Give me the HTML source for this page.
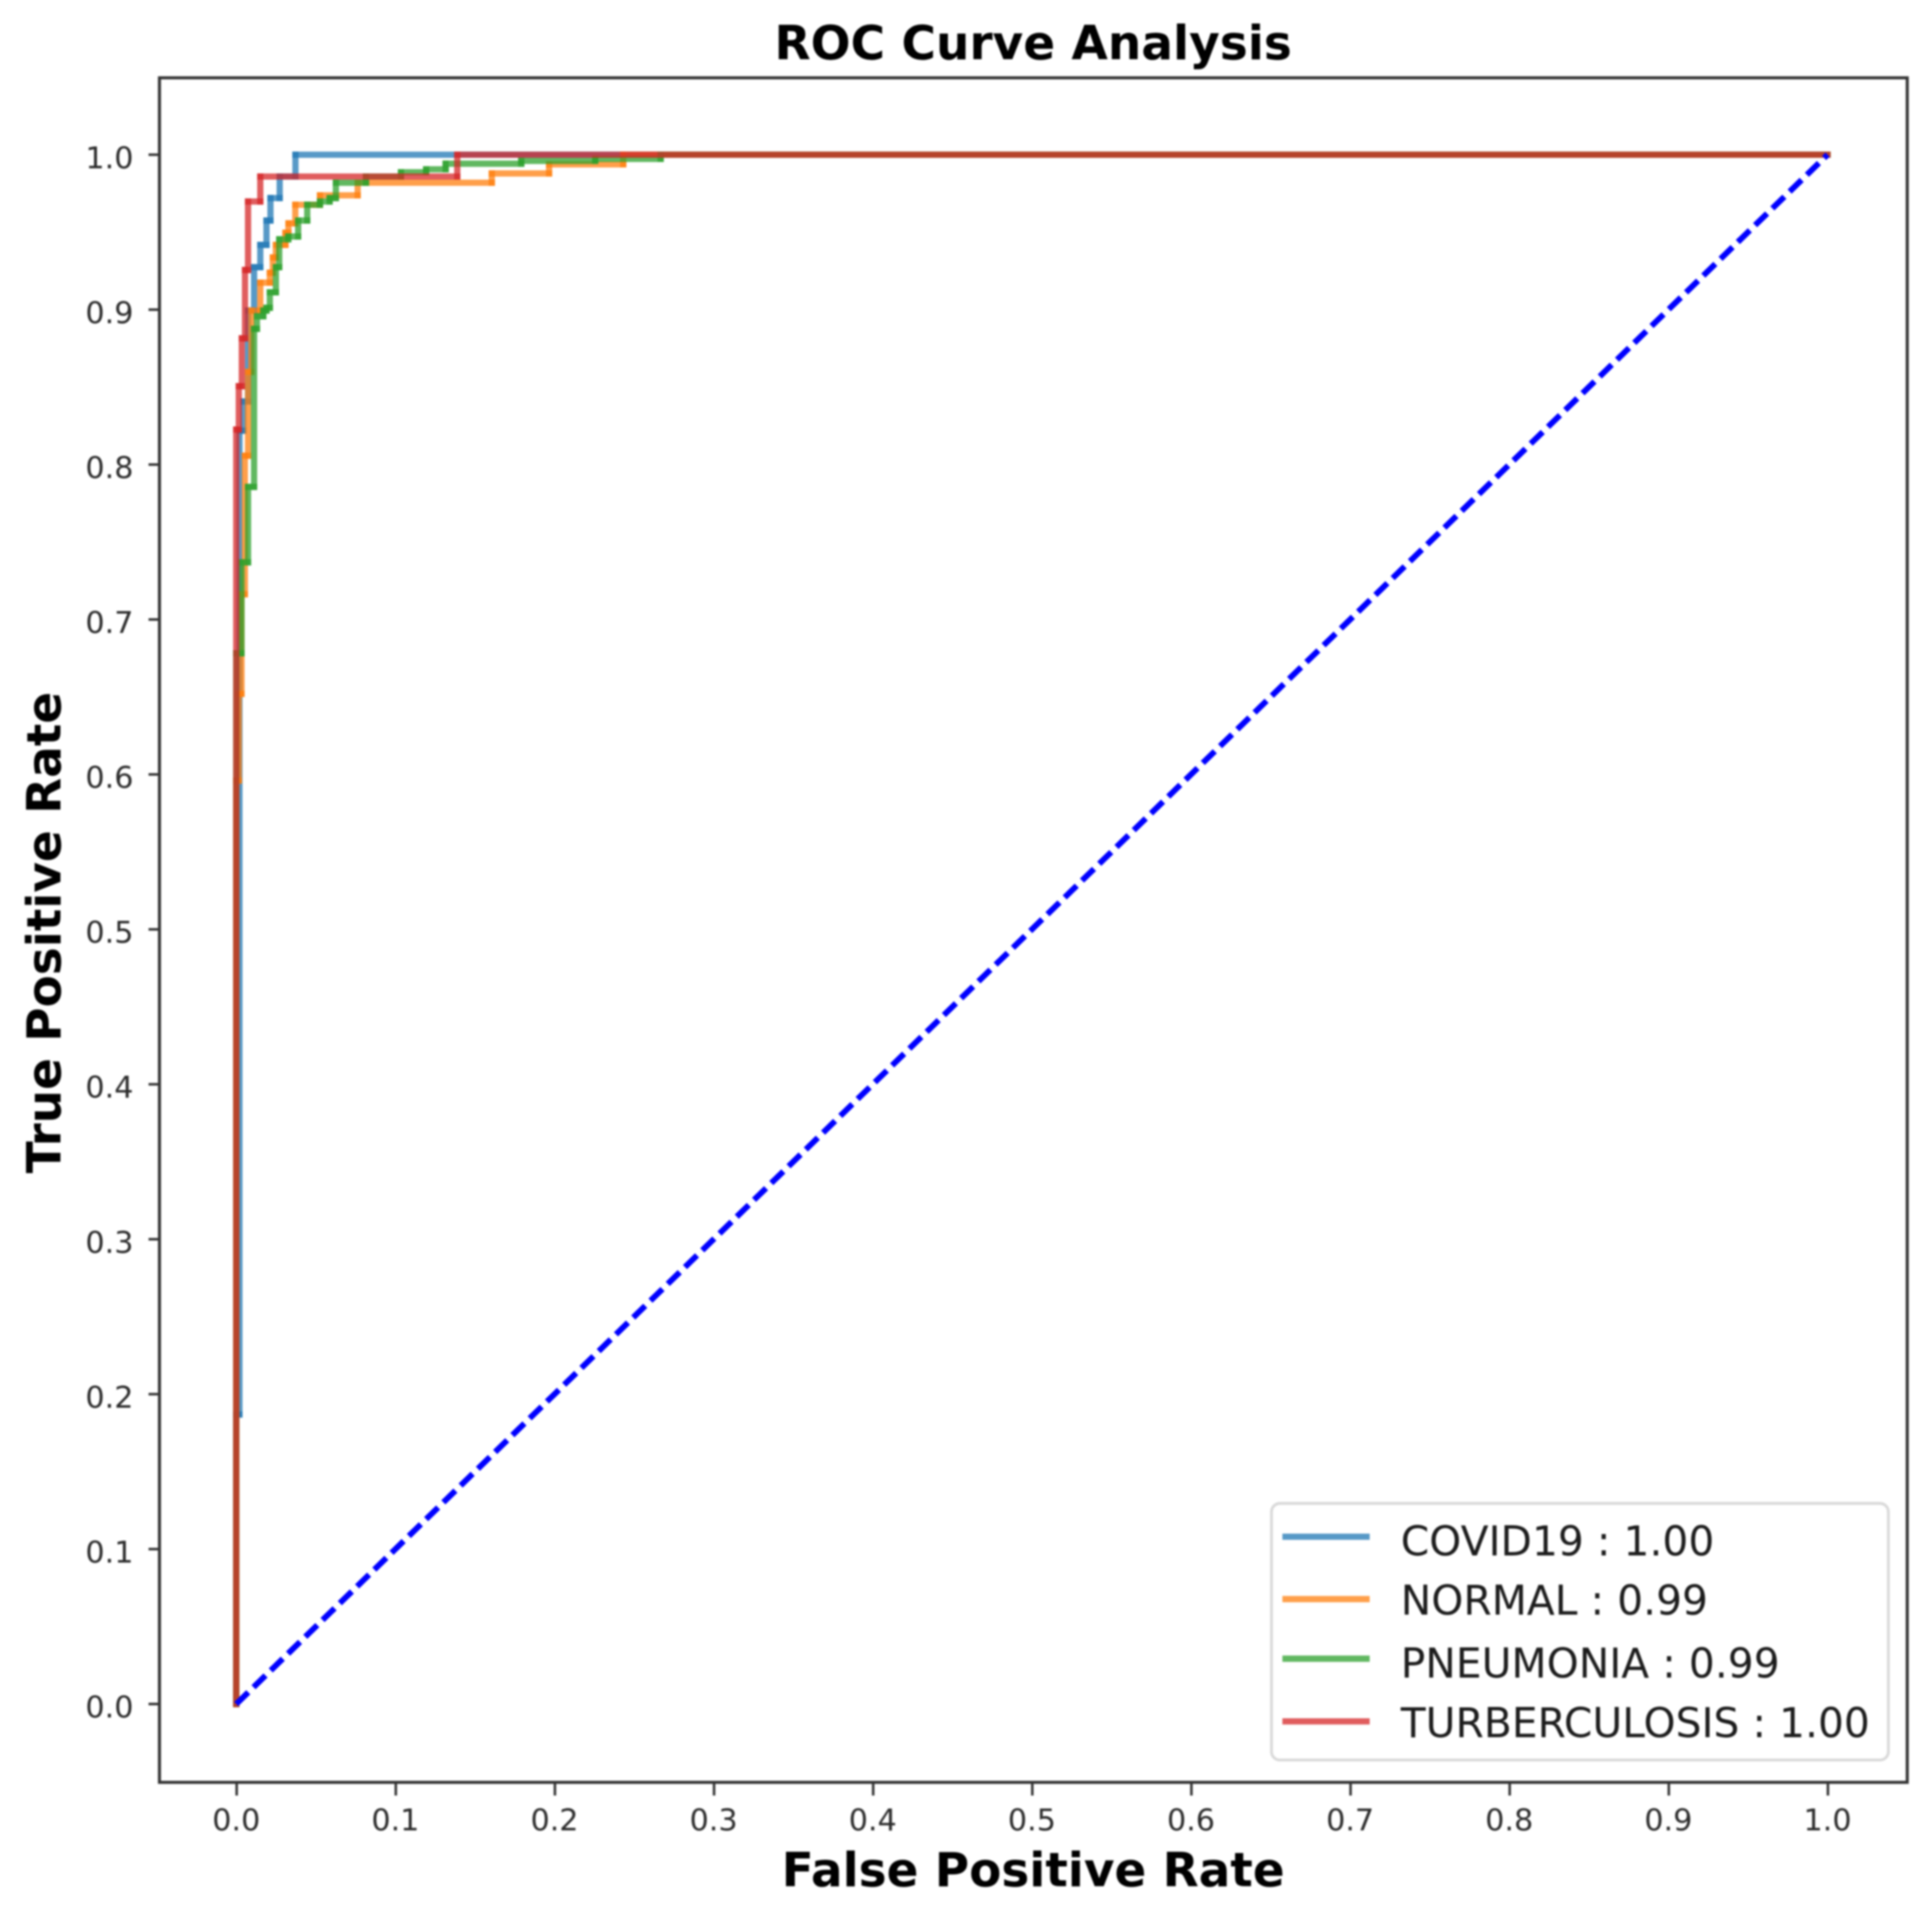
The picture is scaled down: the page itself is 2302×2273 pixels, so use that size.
<!DOCTYPE html>
<html lang="en">
<head>
<meta charset="utf-8">
<title>ROC Curve Analysis</title>
<style>
  html,body{margin:0;padding:0;background:#fff;}
  body{width:2302px;height:2273px;overflow:hidden;}
  svg{display:block;filter:blur(1px);}
  text{font-family:"DejaVu Sans","Liberation Sans",sans-serif;}
  .tick-text{font-size:36px;fill:#2b2b2b;}
  .axis-title{font-size:55.9px;font-weight:bold;fill:#000;}
  .legend-text{font-size:48.6px;fill:#1c1c1c;}
</style>
</head>
<body>
<svg id="chart" width="2302" height="2273" viewBox="0 0 2302 2273" xmlns="http://www.w3.org/2000/svg">
  <rect x="0" y="0" width="2302" height="2273" fill="#fff"/>
  <text class="axis-title" x="1231" y="70.5" text-anchor="middle" style="font-size:56px">ROC Curve Analysis</text>
  <text class="axis-title" x="1231" y="2247" text-anchor="middle">False Positive Rate</text>
  <text class="axis-title" transform="translate(72 1111) rotate(-90)" text-anchor="middle">True Positive Rate</text>
  <g id="ticks"></g>
  <g id="series"></g>
  <rect x="190" y="92.7" width="2082.5" height="2030.6" fill="none" stroke="#333" stroke-width="3.6"/>
  <g>
    <rect x="1515" y="1791" width="735" height="305.7" rx="10" ry="10" fill="#fff" fill-opacity="0.9" stroke="#d9d9d9" stroke-width="3.4"/>
    <line x1="1528" x2="1632" y1="1830.7" y2="1830.7" stroke="#1f77b4" stroke-opacity="0.75" stroke-width="7.4"/>
    <text class="legend-text" x="1669" y="1853">COVID19 : 1.00</text>
    <line x1="1528" x2="1632" y1="1905" y2="1905" stroke="#ff7f0e" stroke-opacity="0.75" stroke-width="7.4"/>
    <text class="legend-text" x="1669" y="1923.5">NORMAL : 0.99</text>
    <line x1="1528" x2="1632" y1="1976" y2="1976" stroke="#2ca02c" stroke-opacity="0.75" stroke-width="7.4"/>
    <text class="legend-text" x="1669" y="1998.5">PNEUMONIA : 0.99</text>
    <line x1="1528" x2="1632" y1="2050.7" y2="2050.7" stroke="#d62728" stroke-opacity="0.75" stroke-width="7.4"/>
    <text class="legend-text" x="1669" y="2069.5">TURBERCULOSIS : 1.00</text>
  </g>
</svg>
<script>
// Tick labels
var xTickLabels = ["0.0","0.1","0.2","0.3","0.4","0.5","0.6","0.7","0.8","0.9","1.0"];
var yTickLabels = ["0.0","0.1","0.2","0.3","0.4","0.5","0.6","0.7","0.8","0.9","1.0"];

// Step data: at fpr[i] the curve rises to tpr[i], then runs flat to fpr[i+1].
var covidFpr = [0,0.002,0.0045,0.0074,0.0112,0.0151,0.0190,0.0215,0.0273,0.0372,1];
var covidTpr = [0.1869,0.8219,0.8407,0.8994,0.9274,0.9418,0.9575,0.9720,0.9859,1,1];

var normalFpr = [0,0.0016,0.0033,0.0054,0.0074,0.0095,0.0151,0.0211,0.0230,0.0249,0.0309,0.0328,0.0371,0.0526,0.0763,0.1606,0.1966,0.2432,1];
var normalTpr = [0.596,0.652,0.7163,0.8057,0.8598,0.8994,0.9174,0.9238,0.9337,0.9418,0.9496,0.9557,0.9677,0.9738,0.9819,0.9879,0.9938,1,1];

var pneumoniaFpr = [0,0.0033,0.0074,0.0112,0.0130,0.0170,0.0190,0.0211,0.0249,0.0270,0.0327,0.0389,0.0446,0.0526,0.0587,0.0626,0.0815,0.1035,0.1193,0.1316,0.1791,0.2256,0.2667,1];
var pneumoniaTpr = [0.6782,0.7369,0.7856,0.8876,0.8957,0.8994,0.9012,0.9112,0.9274,0.9454,0.9472,0.9575,0.9677,0.9698,0.9720,0.9819,0.9859,0.9887,0.9906,0.9942,0.9960,0.9973,1,1];

var turberculosisFpr = [0,0.0016,0.0035,0.0055,0.0074,0.0151,0.1389,1];
var turberculosisTpr = [0.8226,0.8506,0.8815,0.9256,0.9698,0.9859,1,1];

var chanceFpr = [0,1];
var chanceTpr = [0,1];

var NS = "http://www.w3.org/2000/svg";
function xAxis(v){ return 281.5 + 1896 * v; }
function yAxis(v){ return 2030 - 1845.7 * v; }

function makeLine(parent, x1, y1, x2, y2, color, width, opacity, cap){
  var l = document.createElementNS(NS, "line");
  l.setAttribute("x1", x1);
  l.setAttribute("y1", y1);
  l.setAttribute("x2", x2);
  l.setAttribute("y2", y2);
  l.setAttribute("stroke", color);
  l.setAttribute("stroke-width", width);
  l.setAttribute("stroke-opacity", opacity);
  l.setAttribute("stroke-linecap", cap);
  parent.appendChild(l);
  return l;
}

var ticksGroup = document.getElementById("ticks");
xTickLabels.forEach(function(label){
  var v = parseFloat(label);
  var px = xAxis(v);
  var t = makeLine(ticksGroup, px + 0.5, 2123, px + 0.5, 2139, "#333", 3, 1, "butt");
  
  
  var txt = document.createElementNS(NS, "text");
  txt.setAttribute("class", "tick-text");
  txt.setAttribute("x", px);
  txt.setAttribute("y", 2180.5);
  txt.setAttribute("text-anchor", "middle");
  txt.textContent = label;
  
  
  ticksGroup.appendChild(txt);
});
yTickLabels.forEach(function(label){
  var v = parseFloat(label);
  var py = yAxis(v);
  var t = makeLine(ticksGroup, 177, py, 190, py, "#333", 3, 1, "butt");
  
  
  var txt = document.createElementNS(NS, "text");
  txt.setAttribute("class", "tick-text");
  txt.setAttribute("x", 159);
  txt.setAttribute("y", py + 16);
  txt.setAttribute("text-anchor", "end");
  txt.textContent = label;
  
  
  ticksGroup.appendChild(txt);
});

var seriesRoot = document.getElementById("series");
function drawSteps(name, fpr, tpr, color){
  var g = document.createElementNS(NS, "g");
  
  
  seriesRoot.appendChild(g);
  var cx = 0, cy = 0;
  for (var i = 0; i < fpr.length; i++) {
    var nx = fpr[i], ny = tpr[i];
    if (nx !== cx) {
      var h = makeLine(g, xAxis(cx), yAxis(cy), xAxis(nx), yAxis(cy), color, 7.4, 0.75, "square");
      
      
      cx = nx;
    }
    if (ny !== cy) {
      var v = makeLine(g, xAxis(cx), yAxis(cy), xAxis(cx), yAxis(ny), color, 7.4, 0.75, "square");
      
      
      cy = ny;
    }
  }
}
drawSteps("covid19-curve", covidFpr, covidTpr, "#1f77b4");
drawSteps("normal-curve", normalFpr, normalTpr, "#ff7f0e");
drawSteps("pneumonia-curve", pneumoniaFpr, pneumoniaTpr, "#2ca02c");
drawSteps("turberculosis-curve", turberculosisFpr, turberculosisTpr, "#d62728");

var chance = makeLine(seriesRoot, xAxis(chanceFpr[0]), yAxis(chanceTpr[0]), xAxis(chanceFpr[1]), yAxis(chanceTpr[1]), "#0000ff", 7, 1, "butt");
chance.setAttribute("stroke-dasharray", "20 8.7");


</script>
</body>
</html>
